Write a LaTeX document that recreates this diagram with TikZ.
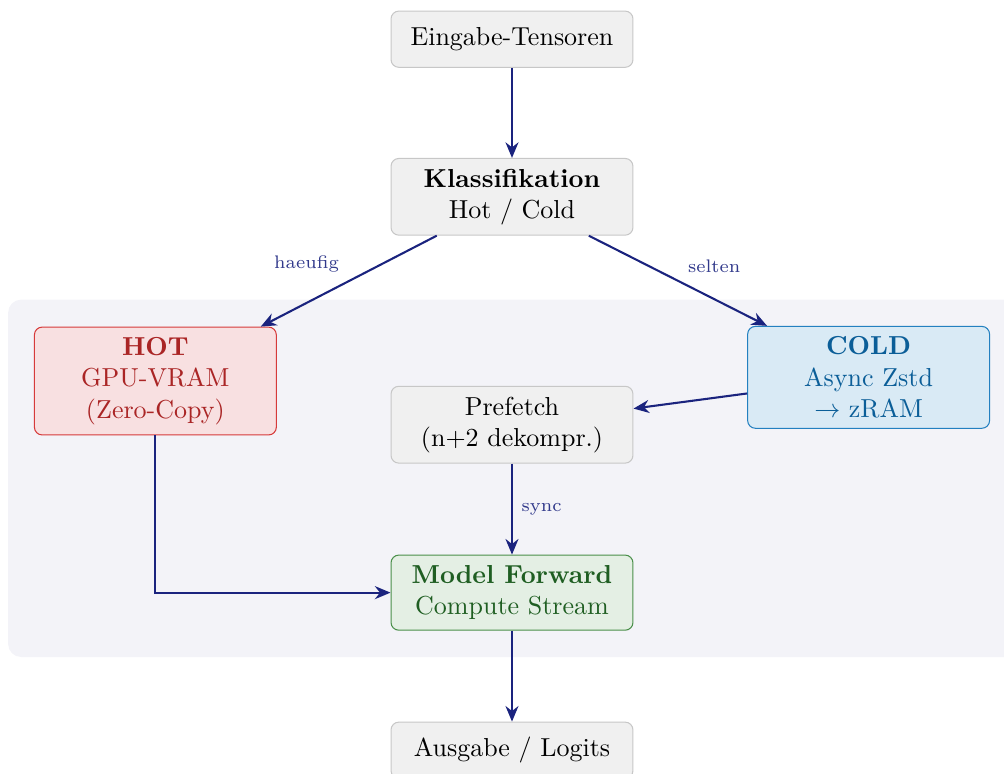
\documentclass[tikz,border=0pt]{standalone}
\usepackage{amsmath}
\usepackage{tikz}
\usepackage{xcolor}
\usetikzlibrary{arrows.meta, positioning}

\definecolor{flowblue}{HTML}{1A237E}
\definecolor{panelbg}{HTML}{F3F3F8}
\definecolor{hotfill}{HTML}{F8E0E1}
\definecolor{hotline}{HTML}{D63A3A}
\definecolor{hottext}{HTML}{AA2525}
\definecolor{coldfill}{HTML}{D9EAF5}
\definecolor{coldline}{HTML}{2380C0}
\definecolor{coldtext}{HTML}{0B5E98}
\definecolor{fwdfill}{HTML}{E4EFE4}
\definecolor{fwdline}{HTML}{4A8F4A}
\definecolor{fwdtext}{HTML}{1F5E22}

\begin{document}
\begin{tikzpicture}[
  box/.style={draw=black!22, fill=black!6, rounded corners=3pt, minimum width=3.27cm, minimum height=0.76cm, inner sep=4pt, align=center},
  hotbox/.style={box, draw=hotline, fill=hotfill, text=hottext},
  coldbox/.style={box, draw=coldline, fill=coldfill, text=coldtext},
  fwdbox/.style={box, draw=fwdline, fill=fwdfill, text=fwdtext},
  flow/.style={draw=flowblue, line width=0.8pt, -{Stealth[length=6pt,width=5pt]}},
  tag/.style={font=\scriptsize, text=flowblue!90}
]
\useasboundingbox (0,0) rectangle (13.57,-10.45);
\fill[panelbg, rounded corners=5pt] (0.11,-4.05) rectangle (13.9,-8.88);

\node[box] (in) at (6.92,-0.53) {Eingabe-Tensoren};
\node[box] (cls) at (6.92,-2.66) {\textbf{Klassifikation}\\Hot / Cold};
\node[hotbox] (hot) at (2.10,-5.15) {\textbf{HOT}\\GPU-VRAM\\(Zero-Copy)};
\node[coldbox] (cold) at (11.74,-5.10) {\textbf{COLD}\\Async Zstd\\$\rightarrow$ zRAM};
\node[box] (pre) at (6.92,-5.74) {Prefetch\\(n+2 dekompr.)};
\node[fwdbox] (fwd) at (6.92,-8.01) {\textbf{Model Forward}\\Compute Stream};
\node[box] (out) at (6.92,-10.14) {Ausgabe / Logits};

\draw[flow] (in) -- (cls);
\draw[flow] (cls) -- node[tag, midway, xshift=-0.57cm, yshift=0.23cm] {haeufig} (hot);
\draw[flow] (cls) -- node[tag, midway, xshift=0.49cm, yshift=0.20cm] {selten} (cold);
\draw[flow] (cold) -- (pre);
\draw[flow] (hot) |- (fwd);
\draw[flow] (pre) -- node[tag, midway, xshift=0.4cm] {sync} (fwd);
\draw[flow] (fwd) -- (out);
\end{tikzpicture}
\end{document}
